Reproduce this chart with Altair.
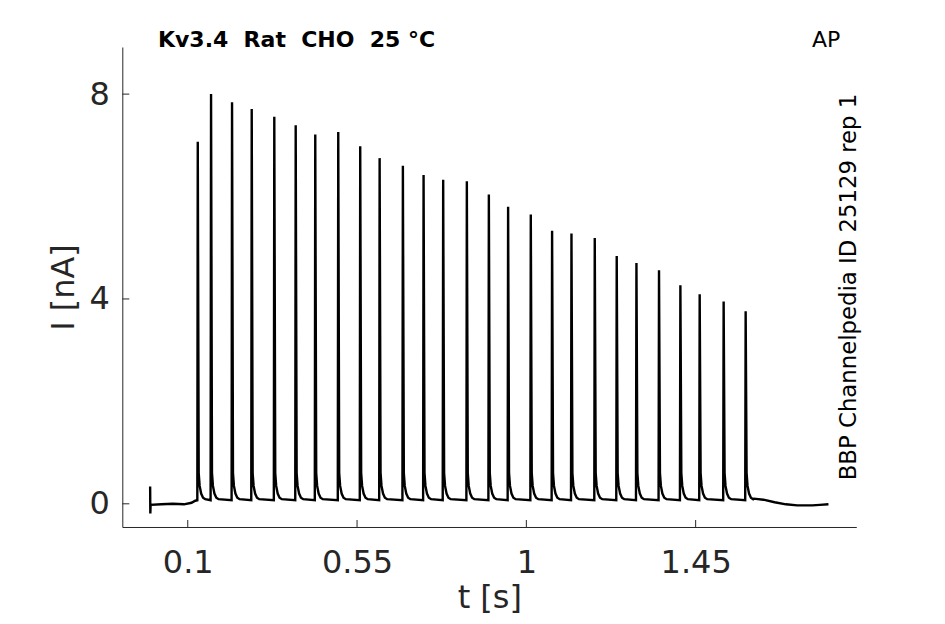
import altair as alt
import pandas as pd

# ---- data ----
spike_t = [0.1266, 0.1619, 0.2177, 0.2700, 0.3300, 0.3869, 0.4389, 0.5000, 0.5584,
           0.6100, 0.6718, 0.7268, 0.7789, 0.8418, 0.9003, 0.9515, 1.0118, 1.0684,
           1.1199, 1.1818, 1.2402, 1.2926, 1.3526, 1.4094, 1.4607, 1.5244, 1.5829]
spike_peak = [7.07, 8.00, 7.84, 7.71, 7.56, 7.39, 7.21, 7.26, 6.98,
              6.75, 6.60, 6.42, 6.33, 6.30, 6.04, 5.80, 5.65, 5.33,
              5.28, 5.19, 4.84, 4.70, 4.56, 4.27, 4.09, 3.95, 3.76]
# shape of one spike (offset from peak in s, current in nA; None = the peak)
shape_dt = [-0.0012, 0.0, 0.0025, 0.005, 0.009, 0.014, 0.020]
shape_i = [0.07, None, 0.60, 0.35, 0.20, 0.12, 0.09]
# trace before the train
pre_t = [0.0, 0.0005, 0.0012, 0.03, 0.06, 0.09, 0.11, 0.12]
pre_i = [0.34, -0.19, -0.02, -0.01, 0.0, -0.01, 0.02, 0.06]
# trace after the train
post_t = [1.605, 1.630, 1.660, 1.690, 1.720, 1.760, 1.780, 1.803]
post_i = [0.10, 0.08, 0.03, -0.01, -0.03, -0.03, -0.02, -0.01]

x_ticks = [0.1, 0.55, 1, 1.45]
y_ticks = [0, 4, 8]
x_domain = [-0.074, 1.877]
y_domain = [-0.453, 8.92]

NB = "\u00a0"
title_text = f"Kv3.4{NB}{NB}Rat{NB}{NB}CHO{NB}{NB}25{NB}°C"
proto_text = "AP"
side_text = "BBP Channelpedia ID 25129 rep 1"
x_title = "t [s]"
y_title = "I [nA]"

# ---- build the trace table ----
rows = list(zip(pre_t, pre_i))
for ts, pk in zip(spike_t, spike_peak):
    for dt, lv in zip(shape_dt, shape_i):
        rows.append((ts + dt, pk if lv is None else lv))
rows += list(zip(post_t, post_i))
trace = pd.DataFrame(rows, columns=["t", "i"])
trace["order"] = range(len(trace))

W, H = 734, 480
FONT = "DejaVu Sans"
AX = "#262626"

xs = alt.Scale(domain=x_domain, nice=False, zero=False)
ys = alt.Scale(domain=y_domain, nice=False, zero=False)

line = alt.Chart(trace).mark_line(color="black", strokeWidth=2.4, clip=True).encode(
    x=alt.X("t:Q", scale=xs, axis=alt.Axis(
        values=x_ticks, format=".6~g", grid=False, ticks=False, tickSize=0,
        domainColor=AX, domainWidth=1, labelFont=FONT, labelFontSize=32,
        labelColor=AX, labelPadding=21, labelFlush=False,
        title=x_title, titleFont=FONT, titleFontSize=32, titleFontWeight="normal",
        titleColor=AX, titleBaseline="alphabetic", titleY=81)),
    y=alt.Y("i:Q", scale=ys, axis=alt.Axis(
        values=y_ticks, format=".6~g", grid=False, ticks=False, tickSize=0,
        domainColor=AX, domainWidth=1, labelFont=FONT, labelFontSize=32,
        labelColor=AX, labelPadding=13, labelFlush=False,
        title=y_title, titleFont=FONT, titleFontSize=32, titleFontWeight="normal",
        titleColor=AX, titleBaseline="alphabetic", titleAngle=270,
        titleX=-49, titleY=240)),
    order="order:Q",
)

xt = alt.Chart(pd.DataFrame({"t": x_ticks})).mark_rule(color=AX, strokeWidth=1).encode(
    x=alt.X("t:Q", scale=xs), y=alt.value(H - 7), y2=alt.value(H))
yt = alt.Chart(pd.DataFrame({"i": y_ticks})).mark_rule(color=AX, strokeWidth=1).encode(
    y=alt.Y("i:Q", scale=ys), x=alt.value(0), x2=alt.value(7))

title = alt.Chart(alt.Data(values=[{"s": title_text}])).mark_text(
    font=FONT, fontSize=22, fontWeight="bold", color="black",
    align="left", baseline="alphabetic").encode(
    text="s:N", x=alt.value(35.7), y=alt.value(0))
proto = alt.Chart(alt.Data(values=[{"s": proto_text}])).mark_text(
    font=FONT, fontSize=22, color="black", align="left", baseline="alphabetic").encode(
    text="s:N", x=alt.value(689.7), y=alt.value(-0.5))
side = alt.Chart(alt.Data(values=[{"s": side_text}])).mark_text(
    font=FONT, fontSize=22.8, color="black", align="center", baseline="alphabetic",
    angle=270).encode(
    text="s:N", x=alt.value(733.5), y=alt.value(240))

chart = alt.layer(line, xt, yt, title, proto, side).properties(
    width=W, height=H,
    autosize=alt.AutoSizeParams(type="none"),
    padding={"left": 114.3, "top": 39, "right": 75, "bottom": 89},
    background="white",
).configure_view(strokeWidth=0)

chart.save("out.html", embed_options={"renderer": "svg", "actions": False})
